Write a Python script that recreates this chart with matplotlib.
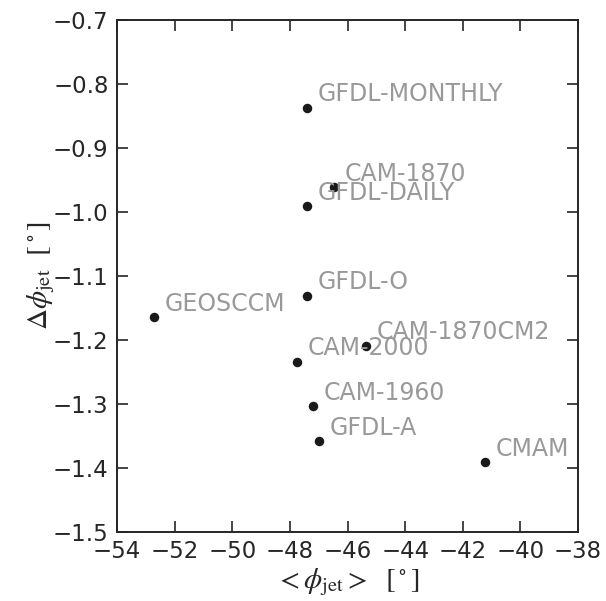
import numpy as np
import matplotlib
matplotlib.use('Agg')
import matplotlib.pyplot as plt
from matplotlib.ticker import FuncFormatter

plt.rcParams['mathtext.fontset'] = 'stix'

models = ['GFDL-MONTHLY', 'CAM-1870', 'GFDL-DAILY', 'GFDL-O', 'GEOSCCM',
          'CAM-1870CM2', 'CAM-2000', 'CAM-1960', 'GFDL-A', 'CMAM']
phi_mean = [-47.4, -46.47, -47.4, -47.4, -52.72,
            -45.35, -47.75, -47.19, -46.99, -41.22]
dphi = [-0.837, -0.961, -0.991, -1.131, -1.165,
        -1.209, -1.234, -1.303, -1.358, -1.391]

fig = plt.figure(figsize=(6.06, 6.01), dpi=100)
ax = fig.add_axes([0.193, 0.115, 0.761, 0.852])

ax.scatter(phi_mean, dphi, s=34, color='#1a1a1a', zorder=3)
# labels overlap in a couple of places, same as the original figure
for name, x, y in zip(models, phi_mean, dphi):
    ax.annotate(name, (x, y), xytext=(7.5, 4.5), textcoords='offset points',
                ha='left', va='baseline', fontsize=17, color='#999999')

ax.set_xlim(-54, -38)
ax.set_ylim(-1.5, -0.7)
ax.set_xticks(np.arange(-54, -37, 2))
ax.set_yticks(np.arange(-1.5, -0.65, 0.1))
ax.xaxis.set_major_formatter(FuncFormatter(lambda v, p: ('%d' % round(v)).replace('-', '\u2212')))
ax.yaxis.set_major_formatter(FuncFormatter(lambda v, p: ('%.1f' % v).replace('-', '\u2212')))
ax.tick_params(direction='in', length=8, width=1.2, top=True, right=True,
               labelsize=16.5, colors='#262626', pad=6)
for sp in ax.spines.values():
    sp.set_linewidth(1.4)
    sp.set_color('#262626')

ax.set_xlabel(r'$<\phi_{\rm jet}>\ \ [^\circ]$', fontsize=21, color='#262626', labelpad=2)
ax.set_ylabel(r'$\Delta\phi_{\rm jet}\ \ [^\circ]$', fontsize=21, color='#262626', labelpad=-3)

fig.savefig('out.png', dpi=100)
